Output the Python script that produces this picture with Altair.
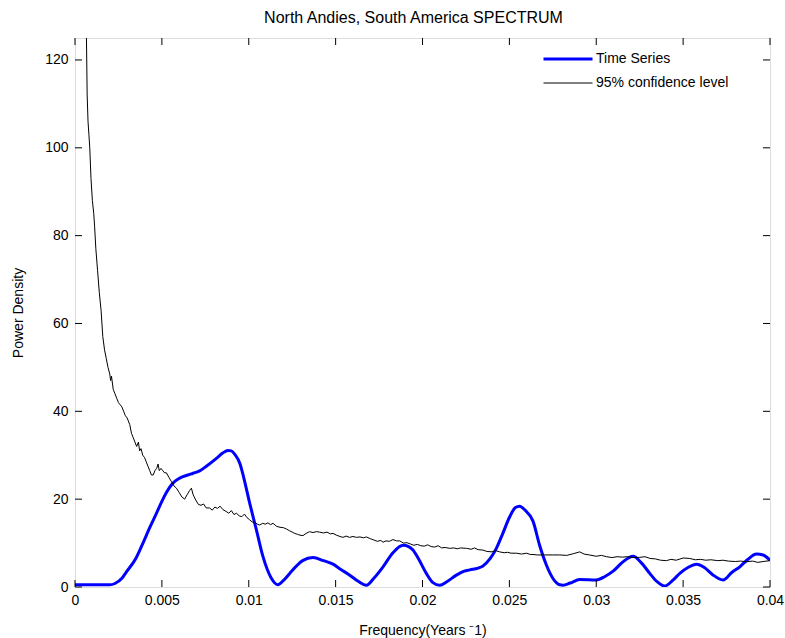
import altair as alt
import pandas as pd

# ---------------- data ----------------
ts_freq = [0.0, 0.0010, 0.0020, 0.0023, 0.0027, 0.00297, 0.0035, 0.0039, 0.0043, 0.00468,
           0.0050, 0.00526, 0.0056, 0.00603, 0.0065, 0.0068, 0.0072, 0.00756, 0.00814, 0.0085,
           0.0088, 0.0090, 0.0092, 0.0095, 0.0097, 0.01006, 0.01044, 0.01082, 0.0113, 0.01168,
           0.0120, 0.01236, 0.01275, 0.0131, 0.0137, 0.0143, 0.01485, 0.0153, 0.01581, 0.0163,
           0.01677, 0.0172, 0.01773, 0.0183, 0.01888, 0.0192, 0.01945, 0.0198, 0.02022, 0.0206,
           0.02099, 0.0214, 0.02195, 0.0224, 0.02272, 0.0232, 0.02348, 0.0239, 0.02425, 0.0246,
           0.02502, 0.02535, 0.02559, 0.0259, 0.02636, 0.02674, 0.02713, 0.0275, 0.0279, 0.02809,
           0.0285, 0.02905, 0.03001, 0.0305, 0.03097, 0.0315, 0.03212, 0.0326, 0.03308, 0.0335,
           0.03394, 0.0344, 0.03481, 0.0353, 0.03577, 0.0362, 0.0367, 0.0373, 0.0378, 0.03826,
           0.0387, 0.03922, 0.0396, 0.0400]
ts_power = [0.5, 0.5, 0.5, 0.8, 2.0, 3.5, 6.5, 9.9, 13.5, 16.7,
            19.5, 21.5, 23.5, 24.8, 25.5, 25.9, 26.5, 27.5, 29.3, 30.5,
            31.1, 31.0, 30.2, 28.0, 25.1, 19.0, 13.0, 6.9, 2.0, 0.5,
            1.5, 3.1, 4.8, 6.0, 6.7, 6.0, 5.2, 4.0, 2.7, 1.3,
            0.4, 2.0, 4.6, 7.8, 9.5, 9.2, 8.4, 6.2, 3.1, 1.0,
            0.4, 1.2, 2.7, 3.6, 3.9, 4.3, 4.8, 6.5, 8.8, 12.0,
            16.0, 18.1, 18.4, 17.5, 15.0, 9.5, 5.0, 2.0, 0.5, 0.4,
            0.9, 1.7, 1.6, 2.4, 3.6, 5.6, 7.0, 5.5, 3.1, 1.2,
            0.2, 1.5, 3.1, 4.5, 5.2, 4.5, 2.8, 1.6, 3.3, 4.6,
            6.2, 7.5, 7.3, 6.1]

cl_freq = [0.00060, 0.00066, 0.00070, 0.00075, 0.00080, 0.00085, 0.00092, 0.00100, 0.00108, 0.00113,
           0.00120, 0.00130, 0.00140, 0.00150, 0.00160, 0.00170, 0.00180, 0.00190, 0.00200, 0.00205,
           0.00210, 0.00220, 0.00230, 0.00240, 0.00250, 0.00260, 0.00270, 0.00280, 0.00290, 0.00300,
           0.00315, 0.00325, 0.00335, 0.00345, 0.00355, 0.00365, 0.00372, 0.00380, 0.00390, 0.00400,
           0.00410, 0.00420, 0.00430, 0.00440, 0.00450, 0.00460, 0.00470, 0.00478, 0.00485, 0.00495,
           0.00505, 0.00515, 0.00526, 0.00540, 0.00555, 0.00570, 0.00584, 0.00600, 0.00615, 0.00631,
           0.00645, 0.00660, 0.00670, 0.00680, 0.00695, 0.00710, 0.00725, 0.00740, 0.00755, 0.00775,
           0.00790, 0.00805, 0.00820, 0.00835, 0.00852, 0.00870, 0.00885, 0.00900, 0.00915, 0.00929,
           0.00945, 0.00960, 0.00975, 0.00990, 0.01005, 0.01020, 0.01035, 0.01050, 0.01063, 0.01080,
           0.01095, 0.01110, 0.01125, 0.01140, 0.01160, 0.01180, 0.01200, 0.01217, 0.01235, 0.01250,
           0.01265, 0.01280, 0.01295, 0.01312, 0.01330, 0.01350, 0.01370, 0.01389, 0.01408, 0.01430,
           0.01450, 0.01470, 0.01485, 0.01505, 0.01525, 0.01542, 0.01560, 0.01580, 0.01600, 0.01620,
           0.01640, 0.01660, 0.01677, 0.01700, 0.01720, 0.01740, 0.01760, 0.01773, 0.01790, 0.01810,
           0.01830, 0.01850, 0.01869, 0.01890, 0.01910, 0.01930, 0.01950, 0.01970, 0.01990, 0.02010,
           0.02030, 0.02050, 0.02070, 0.02090, 0.02110, 0.02130, 0.02157, 0.02180, 0.02200, 0.02220,
           0.02253, 0.02280, 0.02300, 0.02320, 0.02348, 0.02370, 0.02400, 0.02420, 0.02444, 0.02470,
           0.02490, 0.02510, 0.02540, 0.02570, 0.02600, 0.02620, 0.02636, 0.02660, 0.02700, 0.02750,
           0.02790, 0.02830, 0.02870, 0.02905, 0.02930, 0.02960, 0.03000, 0.03030, 0.03059, 0.03090,
           0.03120, 0.03150, 0.03180, 0.03210, 0.03250, 0.03280, 0.03310, 0.03340, 0.03370, 0.03404,
           0.03430, 0.03460, 0.03500, 0.03538, 0.03570, 0.03600, 0.03630, 0.03660, 0.03700, 0.03730,
           0.03760, 0.03800, 0.03830, 0.03864, 0.03900, 0.03930, 0.03960, 0.04000]
cl_power = [140, 125, 112, 106, 103, 100, 93, 88, 85, 82,
            77, 72, 67, 63, 57, 54, 52, 50, 48.5, 47,
            48, 45, 44, 43, 42, 41.5, 41, 40, 39, 38.5,
            37, 35, 34, 33, 32, 33, 31, 31.5, 30, 29.5,
            28.5, 27.5, 26.5, 25.5, 25.5, 26.5, 27, 28, 26.5, 27,
            26.5, 26, 26, 25, 24, 23, 22.5, 21.5, 20.5, 20,
            21, 22, 22.5, 21, 19.8, 18.8, 18.6, 18.9, 18, 18,
            17.5, 18.2, 17.9, 18.4, 17.6, 17.2, 16.8, 17.4, 16.5, 16.8,
            16.2, 16.0, 16.6, 15.8, 15.3, 14.8, 14.7, 14.3, 14.1, 14.5,
            14.3, 14.6, 14.2, 14.5, 13.8, 13.6, 13.5, 13.2, 12.8, 12.5,
            12.2, 12.0, 11.8, 11.7, 12.2, 12.6, 12.4, 12.6, 12.5, 12.3,
            12.5, 12.1, 12.2, 11.8, 11.5, 11.3, 11.6, 11.3, 11.5, 11.3,
            11.4, 11.2, 11.4, 11.0, 10.7, 10.4, 10.6, 10.2, 10.5, 10.4,
            10.8, 10.5, 10.5, 10.0, 10.1, 9.8, 9.5, 9.7, 9.4, 9.3,
            9.6, 9.2, 9.1, 9.4, 8.9, 9.0, 8.8, 8.9, 8.7, 8.9,
            8.8, 8.6, 8.9, 8.5, 8.4, 8.1, 8.0, 8.3, 8.0, 7.8,
            7.9, 7.7, 7.7, 7.5, 7.7, 7.4, 7.4, 7.3, 7.3, 7.3,
            7.3, 7.2, 7.6, 8.0, 7.5, 7.3, 7.0, 7.2, 6.9, 6.7,
            6.9, 6.8, 6.9, 6.7, 6.75, 6.9, 6.5, 6.4, 6.1, 6.0,
            6.3, 6.1, 6.6, 6.5, 6.2, 6.3, 6.1, 6.2, 6.0, 6.1,
            5.9, 5.8, 5.9, 5.75, 5.9, 5.6, 5.8, 6.0]

x_ticks = [0, 0.005, 0.01, 0.015, 0.02, 0.025, 0.03, 0.035, 0.04]
y_ticks = [0, 20, 40, 60, 80, 100, 120]
series_names = ["Time Series", "95% confidence level"]
series_colors = ["#0000ff", "#000000"]
series_widths = [3, 1]

ts = pd.DataFrame({"freq": ts_freq, "power": ts_power, "series": series_names[0]})
cl = pd.DataFrame({"freq": cl_freq, "power": cl_power, "series": series_names[1]})
xt = pd.DataFrame({"freq": x_ticks})
yt = pd.DataFrame({"power": y_ticks})

W, H = 695, 549
FONT = "Liberation Sans"
TICK = 7

xs = alt.Scale(domain=[0, 0.04], nice=False, zero=False)
ys = alt.Scale(domain=[0, 125], nice=False, zero=False)

x_axis = alt.Axis(values=x_ticks, format="~g", ticks=False, domain=False, grid=False,
                  labelFlush=False, labelFont=FONT, labelFontSize=14, labelColor="black",
                  labelPadding=6, title="Frequency(Years ⁻1)", titleFont=FONT,
                  titleFontSize=14, titleFontWeight="normal", titleColor="black",
                  titleX=W / 2, titleY=43, titleBaseline="middle")
y_axis = alt.Axis(values=y_ticks, ticks=False, domain=False, grid=False,
                  labelFlush=False, labelFont=FONT, labelFontSize=14, labelColor="black",
                  labelPadding=7, title="Power Density", titleFont=FONT,
                  titleFontSize=14, titleFontWeight="normal", titleColor="black",
                  titleX=-57, titleY=H / 2, titleAngle=-90, titleBaseline="middle",
                  titleAlign="center")

legend = alt.Legend(title=None, orient="none", legendX=467, legendY=14,
                    symbolType="stroke", symbolSize=2401, labelFont=FONT,
                    labelFontSize=14, labelColor="black", labelOffset=2,
                    clipHeight=14, rowPadding=10)

color = alt.Color("series:N", scale=alt.Scale(domain=series_names, range=series_colors),
                  legend=legend)
width_enc = alt.StrokeWidth("series:N",
                            scale=alt.Scale(domain=series_names, range=series_widths),
                            legend=legend)

X = alt.X("freq:Q", scale=xs, axis=x_axis)
Y = alt.Y("power:Q", scale=ys, axis=y_axis)

line_ts = alt.Chart(ts).mark_line(interpolate="monotone", clip=True).encode(
    x=X, y=Y, color=color, strokeWidth=width_enc)

line_cl = alt.Chart(cl).mark_line(clip=True).encode(
    x=X, y=Y, color=color, strokeWidth=width_enc)

tick_b = alt.Chart(xt).mark_rule(color="black", strokeWidth=1).encode(
    x=X, y=alt.value(H), y2=alt.value(H - TICK))
tick_t = alt.Chart(xt).mark_rule(color="black", strokeWidth=1).encode(
    x=X, y=alt.value(0), y2=alt.value(TICK))
tick_l = alt.Chart(yt).mark_rule(color="black", strokeWidth=1).encode(
    y=Y, x=alt.value(0), x2=alt.value(TICK))
tick_r = alt.Chart(yt).mark_rule(color="black", strokeWidth=1).encode(
    y=Y, x=alt.value(W), x2=alt.value(W - TICK))

chart = alt.layer(line_ts, line_cl, tick_b, tick_t, tick_l, tick_r).properties(
    width=W, height=H,
    title=alt.TitleParams("North Andies, South America  SPECTRUM", font=FONT, fontSize=16,
                          fontWeight="normal", color="black", anchor="middle", offset=12,
                          dx=-9),
    autosize=alt.AutoSizeParams(type="none"),
    padding={"left": 75, "top": 38, "right": 15, "bottom": 51},
).configure_view(stroke="black", strokeWidth=1).configure(background="white")

chart.save("out.html", embed_options={"renderer": "svg", "actions": False})
